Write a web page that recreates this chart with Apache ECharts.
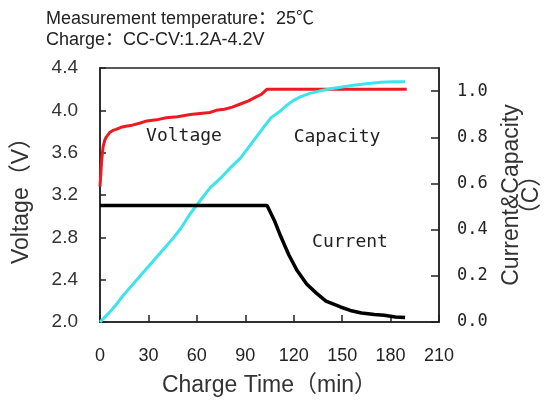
<!DOCTYPE html>
<html>
<head>
<meta charset="utf-8">
<script src="https://cdn.jsdelivr.net/npm/echarts@6/dist/echarts.min.js"></script>
<style>html,body{margin:0;padding:0;background:#fff;}#c{width:554px;height:404px;}</style>
</head>
<body>
<div id="c"></div>
<script>
const titleLines = ['Measurement temperature：25℃', 'Charge：CC-CV:1.2A-4.2V'];
const xAxisName = 'Charge Time（min）';
const leftAxisName = 'Voltage（V）';
const rightAxisName = 'Current&Capacity\n（C）';
const seriesNames = ['Voltage', 'Capacity', 'Current'];

const voltTime = [0, 0.5, 1, 1.5, 2, 3, 4, 6, 8, 10, 13, 16, 20, 25, 29, 35, 41, 48, 56, 62, 68, 72, 77, 82, 87, 92, 97, 100, 103.5, 190];
const voltVals = [3.28, 3.40, 3.52, 3.60, 3.66, 3.72, 3.75, 3.79, 3.81, 3.82, 3.84, 3.85, 3.86, 3.88, 3.90, 3.91, 3.93, 3.94, 3.96, 3.97, 3.98, 4.00, 4.01, 4.03, 4.06, 4.09, 4.13, 4.15, 4.20, 4.20];

const capTime = [0, 5, 10, 14.5, 20, 25, 30, 35, 40, 45, 50, 56, 62, 68, 75, 81, 87, 94, 101, 106, 112, 116, 120, 124, 130, 136, 143, 150, 157, 165, 174, 182, 189];
const capVals = [0, 0.035, 0.075, 0.116, 0.16, 0.20, 0.24, 0.28, 0.32, 0.36, 0.405, 0.47, 0.525, 0.58, 0.625, 0.67, 0.71, 0.775, 0.84, 0.885, 0.915, 0.94, 0.96, 0.975, 0.99, 1.0, 1.01, 1.018, 1.025, 1.032, 1.038, 1.04, 1.04];

const curTime = [0, 103.5, 108, 112, 117, 122, 128, 134, 140, 149, 155, 162, 170, 176, 183, 189];
const curVals = [0.505, 0.505, 0.44, 0.37, 0.29, 0.224, 0.165, 0.125, 0.09, 0.065, 0.05, 0.039, 0.032, 0.029, 0.022, 0.019];

const zip = (a, b) => a.map((t, i) => [t, b[i]]);
const axisColor = '#222';
const sans = '"Liberation Sans", Arial, "Noto Sans CJK SC"';

const chart = echarts.init(document.getElementById('c'), null, {renderer: 'canvas'});
chart.setOption({
  animation: false,
  backgroundColor: '#fff',
  grid: {left: 100, right: 115, top: 68, bottom: 82, show: true, borderColor: axisColor, borderWidth: 1.5, backgroundColor: 'transparent'},
  graphic: [
    {type: 'text', left: 46, top: 10, style: {text: titleLines[0], font: '18px ' + sans, fill: '#222'}},
    {type: 'text', left: 46, top: 31, style: {text: titleLines[1], font: '18px ' + sans, fill: '#222'}},
    {type: 'text', x: 184, y: 136, style: {text: seriesNames[0], font: '18px "DejaVu Sans Mono"', fill: '#222', align: 'center', verticalAlign: 'middle'}},
    {type: 'text', x: 337, y: 137, style: {text: seriesNames[1], font: '18px "DejaVu Sans Mono"', fill: '#222', align: 'center', verticalAlign: 'middle'}},
    {type: 'text', x: 350, y: 242, style: {text: seriesNames[2], font: '18px "DejaVu Sans Mono"', fill: '#222', align: 'center', verticalAlign: 'middle'}}
  ],
  xAxis: {
    type: 'value', min: 0, max: 210, interval: 30,
    name: xAxisName, nameLocation: 'middle', nameGap: 52,
    nameTextStyle: {fontFamily: sans, fontSize: 23, color: '#333'},
    axisLine: {onZero: false, lineStyle: {color: axisColor, width: 1.5}},
    axisTick: {inside: true, length: 7, lineStyle: {color: axisColor, width: 1.5}},
    axisLabel: {margin: 25, fontFamily: '"Liberation Sans", Arial', fontSize: 18, color: '#222'},
    splitLine: {show: false}
  },
  yAxis: [
    {
      type: 'value', min: 2.0, max: 4.4, interval: 0.4, position: 'left',
      name: leftAxisName, nameLocation: 'middle', nameGap: 67,
      nameTextStyle: {fontFamily: sans, fontSize: 23, color: '#333'},
      axisLine: {show: true, onZero: false, lineStyle: {color: axisColor, width: 1.5}},
      axisTick: {inside: true, length: 6, lineStyle: {color: axisColor, width: 1.5}},
      axisLabel: {margin: 22, fontFamily: '"Liberation Sans", Arial', fontSize: 19, color: '#333', formatter: v => v.toFixed(1)},
      splitLine: {show: false}
    },
    {
      type: 'value', min: 0, max: 1.1, interval: 0.2, position: 'right',
      name: rightAxisName, nameLocation: 'middle', nameGap: 63,
      nameTextStyle: {fontFamily: sans, fontSize: 23, lineHeight: 20, color: '#333'},
      axisLine: {show: true, onZero: false, lineStyle: {color: axisColor, width: 1.5}},
      axisTick: {inside: true, length: 8, lineStyle: {color: axisColor, width: 1.5}},
      axisLabel: {margin: 18, showMaxLabel: false, fontFamily: '"DejaVu Sans Mono"', fontSize: 17, color: '#222', formatter: v => v.toFixed(1)},
      splitLine: {show: false}
    }
  ],
  series: [
    {name: seriesNames[0], type: 'line', yAxisIndex: 0, data: zip(voltTime, voltVals), showSymbol: false, symbol: 'none', lineStyle: {color: '#ee1a22', width: 3}, z: 2},
    {name: seriesNames[1], type: 'line', yAxisIndex: 1, data: zip(capTime, capVals), showSymbol: false, symbol: 'none', lineStyle: {color: '#3ee4ec', width: 3}, z: 3},
    {name: seriesNames[2], type: 'line', yAxisIndex: 1, data: zip(curTime, curVals), showSymbol: false, symbol: 'none', lineStyle: {color: '#000', width: 3.5}, z: 4}
  ]
});
</script>
</body>
</html>
